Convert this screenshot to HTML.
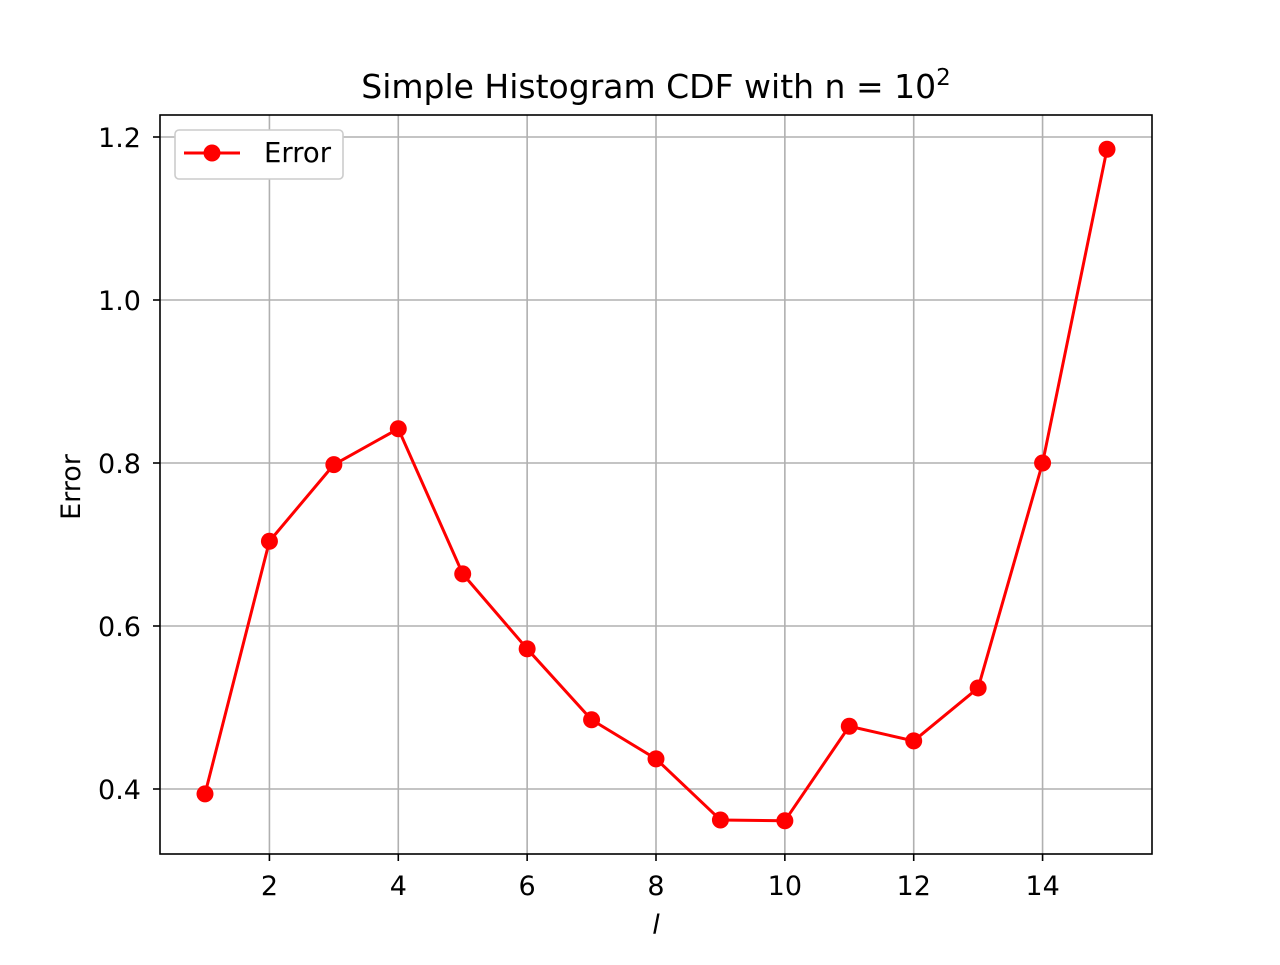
<!DOCTYPE html>
<html><head><meta charset="utf-8"><style>
body{margin:0;background:#fff;}
svg text{font-family:"DejaVu Sans","Liberation Sans",sans-serif;fill:#000;}
</style></head><body>
<svg id="chart" width="1280" height="960" viewBox="0 0 1280 960" xmlns="http://www.w3.org/2000/svg">
<rect width="1280" height="960" fill="#fff"/>
<g id="grid"></g>
<g id="ticks"></g>
<g id="series"></g>
<rect x="160" y="115" width="992" height="739" fill="none" stroke="#000" stroke-width="1.6"/>
<text x="656" y="98" font-size="33" text-anchor="middle">Simple Histogram CDF with n = 10<tspan font-size="23" dy="-13">2</tspan></text>
<text x="656" y="934" font-size="27" font-style="italic" text-anchor="middle">l</text>
<text transform="translate(80,487) rotate(-90)" font-size="27" text-anchor="middle">Error</text>
<g>
<rect x="175" y="130" width="168" height="49" rx="4" fill="#fff" stroke="#ccc" stroke-width="1.6"/>
<line x1="184" y1="153" x2="240" y2="153" stroke="red" stroke-width="3"/>
<circle cx="212" cy="153" r="8.5" fill="red"/>
<text x="264" y="162" font-size="27.5">Error</text>
</g>
</svg>
<script>
const xValues=[1,2,3,4,5,6,7,8,9,10,11,12,13,14,15];
const errorValues=[0.394,0.704,0.798,0.842,0.664,0.572,0.485,0.437,0.362,0.361,0.477,0.459,0.524,0.800,1.185];
const xTicks=[2,4,6,8,10,12,14];
const yTicks=[0.4,0.6,0.8,1.0,1.2];
const yTickLabels=["0.4","0.6","0.8","1.0","1.2"];
const NS="http://www.w3.org/2000/svg";
function xs(v){return 205+(v-1)*(1107-205)/14;}
function ys(v){return 789-(v-0.4)*815;}
function mk(tag,attrs,parent){const e=document.createElementNS(NS,tag);for(const k in attrs)e.setAttribute(k,attrs[k]);parent.appendChild(e);return e;}
const grid=document.getElementById('grid'),ticks=document.getElementById('ticks'),ser=document.getElementById('series');
xTicks.forEach(t=>{const x=xs(t);
const g=mk('line',{x1:x,x2:x,y1:115,y2:854,stroke:'#b0b0b0','stroke-width':1.6},grid);


mk('line',{x1:x,x2:x,y1:854,y2:861,stroke:'#000','stroke-width':1.6},ticks);
const l=mk('text',{x:x,y:895,'font-size':27,'text-anchor':'middle'},ticks);l.textContent=t;

});
yTicks.forEach((t,i)=>{const y=ys(t);
const g=mk('line',{x1:160,x2:1152,y1:y,y2:y,stroke:'#b0b0b0','stroke-width':1.6},grid);


mk('line',{x1:153,x2:160,y1:y,y2:y,stroke:'#000','stroke-width':1.6},ticks);
const l=mk('text',{x:141,y:y+10,'font-size':27,'text-anchor':'end'},ticks);l.textContent=yTickLabels[i];

});
const pl=mk('polyline',{points:xValues.map((x,i)=>xs(x)+','+ys(errorValues[i])).join(' '),fill:'none',stroke:'red','stroke-width':3,'stroke-linejoin':'round'},ser);


xValues.forEach((x,i)=>{const c=mk('circle',{cx:xs(x),cy:ys(errorValues[i]),r:8.5,fill:'red'},ser);

});
</script>
</body></html>
